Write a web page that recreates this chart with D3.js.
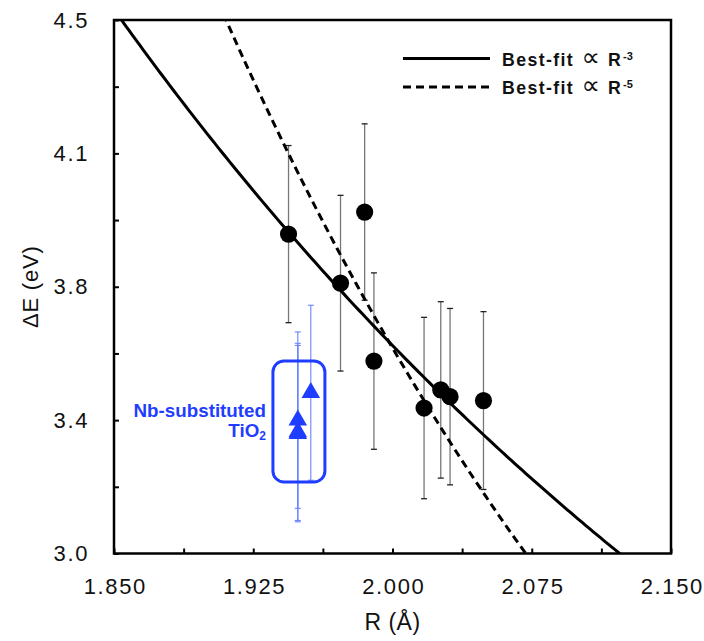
<!DOCTYPE html>
<html>
<head>
<meta charset="utf-8">
<script src="https://cdn.jsdelivr.net/npm/d3@7"></script>
<style>
  html, body { margin: 0; padding: 0; background: #fff; }
  svg { display: block; }
  text { font-family: "Liberation Sans", Arial, Helvetica, sans-serif; }
</style>
</head>
<body>
<svg id="chart" width="704" height="641"></svg>
<script>
// ---------- data ----------
const xTickValues = [1.85, 1.925, 2.0, 2.075, 2.15];
const xTickLabels = ["1.850", "1.925", "2.000", "2.075", "2.150"];
const xMinorTicks = [1.8875, 1.9625, 2.0375, 2.1125];
const yTickValues = [3.0, 3.375, 3.75, 4.125, 4.5];
const yTickLabels = ["3.0", "3.4", "3.8", "4.1", "4.5"];
const yMinorTicks = [3.1875, 3.5625, 3.9375, 4.3125];

// host oxides (black circles)
const blackR   = [1.944, 1.972, 1.985, 1.990, 2.017, 2.026, 2.031, 2.049];
const blackE   = [3.898, 3.760, 3.960, 3.541, 3.409, 3.460, 3.441, 3.430];
const blackErr = [0.249, 0.247, 0.248, 0.248, 0.255, 0.248, 0.248, 0.250];

// Nb-substituted TiO2 (blue triangles)
const blueR   = [1.949, 1.949, 1.949, 1.956];
const blueE   = [3.375, 3.342, 3.337, 3.452];
const blueErr = [0.248, 0.249, 0.248, 0.246];

// best fits: E = A * R^-n
const fitPowers = [3, 5];
const fitCoeffs = [28.68, 114.5];
const fitDash = [null, "8,5"];

// annotation box around blue points (data coords)
const boxR = [1.9356, 1.9636];
const boxE = [3.201, 3.541];

// ---------- layout ----------
const svg = d3.select("#chart");
const L = 114, R = 671, T = 20, B = 553.5;
const x = d3.scaleLinear().domain([1.85, 2.15]).range([L, R]);
const y = d3.scaleLinear().domain([3.0, 4.5]).range([B, T]);
const BLUE = "#1f3dff";
const BLUE_LIGHT = "#6a85ff";

svg.append("defs").append("clipPath").attr("id", "clip")
  .append("rect").attr("x", L).attr("y", T).attr("width", R - L).attr("height", B - T);

// ---------- axes ----------
const fontTick = "22px";
const yAxis = d3.axisLeft(y).tickValues(yTickValues)
  .tickFormat((d, i) => yTickLabels[i]).tickSizeInner(-5).tickSizeOuter(0).tickPadding(25);
const gy = svg.append("g").attr("transform", `translate(${L},0)`).call(yAxis);
gy.select(".domain").remove();
gy.selectAll(".tick line").attr("stroke", "#000").attr("stroke-width", 2);
gy.selectAll(".tick text").attr("font-size", fontTick).attr("fill", "#111")
  .attr("letter-spacing", "1.6px").attr("font-family", "Liberation Sans, Arial, sans-serif");

const yMinor = d3.axisLeft(y).tickValues(yMinorTicks).tickFormat("").tickSizeInner(-5).tickSizeOuter(0);
const gym = svg.append("g").attr("transform", `translate(${L},0)`).call(yMinor);
gym.select(".domain").remove();
gym.selectAll(".tick line").attr("stroke", "#000").attr("stroke-width", 2);

const xAxis = d3.axisBottom(x).tickValues(xTickValues)
  .tickFormat((d, i) => xTickLabels[i]).tickSizeInner(-5).tickSizeOuter(0).tickPadding(24);
const gx = svg.append("g").attr("transform", `translate(0,${B})`).call(xAxis);
gx.select(".domain").remove();
gx.selectAll(".tick line").attr("stroke", "#000").attr("stroke-width", 2);
gx.selectAll(".tick text").attr("font-size", fontTick).attr("fill", "#111")
  .attr("letter-spacing", "1.6px").attr("font-family", "Liberation Sans, Arial, sans-serif")
  .attr("dy", "0.71em").attr("y", 24.5).attr("dx", "0.8px");

const xMinor = d3.axisBottom(x).tickValues(xMinorTicks).tickFormat("").tickSizeInner(-5).tickSizeOuter(0);
const gxm = svg.append("g").attr("transform", `translate(0,${B})`).call(xMinor);
gxm.select(".domain").remove();
gxm.selectAll(".tick line").attr("stroke", "#000").attr("stroke-width", 2);

// axis titles
svg.append("text").attr("x", (L + R) / 2).attr("y", 630)
  .attr("text-anchor", "middle").attr("font-size", "23px").attr("fill", "#111")
  .attr("letter-spacing", "0.5px")
  .text("R (\u00C5)");
svg.append("text").attr("transform", `translate(38,${(T + B) / 2}) rotate(-90)`)
  .attr("text-anchor", "middle").attr("font-size", "22px").attr("fill", "#111")
  .attr("letter-spacing", "0.8px")
  .text("\u0394E (eV)");

// ---------- error bars ----------
const capW = 3;
const gErr = svg.append("g");
blackR.forEach((r, i) => {
  const cx = x(r), y1 = y(blackE[i] + blackErr[i]), y2 = y(blackE[i] - blackErr[i]);
  gErr.append("line").attr("x1", cx).attr("x2", cx).attr("y1", y1).attr("y2", y2)
    .attr("stroke", "#777").attr("stroke-width", 1.3);
  [y1, y2].forEach(yy => gErr.append("line").attr("x1", cx - capW).attr("x2", cx + capW)
    .attr("y1", yy).attr("y2", yy).attr("stroke", "#222").attr("stroke-width", 1.3));
});
blueR.forEach((r, i) => {
  const cx = x(r), y1 = y(blueE[i] + blueErr[i]), y2 = y(blueE[i] - blueErr[i]);
  gErr.append("line").attr("x1", cx).attr("x2", cx).attr("y1", y1).attr("y2", y2)
    .attr("stroke", BLUE_LIGHT).attr("stroke-width", 1.1);
  [y1, y2].forEach(yy => gErr.append("line").attr("x1", cx - capW).attr("x2", cx + capW)
    .attr("y1", yy).attr("y2", yy).attr("stroke", BLUE_LIGHT).attr("stroke-width", 1.1));
});

// ---------- fit curves ----------
const rGrid = d3.range(1.80, 2.20001, 0.002);
const line = d3.line().x(d => x(d[0])).y(d => y(d[1]));
fitPowers.forEach((n, k) => {
  const pts = rGrid.map(r => [r, fitCoeffs[k] * Math.pow(r, -n)]);
  const p = svg.append("path").datum(pts).attr("d", line)
    .attr("clip-path", "url(#clip)")
    .attr("fill", "none").attr("stroke", "#000").attr("stroke-width", 3);
  if (fitDash[k]) p.attr("stroke-dasharray", fitDash[k]);
});

// ---------- annotation box ----------
svg.append("rect")
  .attr("x", x(boxR[0])).attr("y", y(boxE[1]))
  .attr("width", x(boxR[1]) - x(boxR[0])).attr("height", y(boxE[0]) - y(boxE[1]))
  .attr("rx", 11).attr("ry", 11)
  .attr("fill", "none").attr("stroke", BLUE).attr("stroke-width", 3);

// ---------- points ----------
svg.append("g").selectAll("circle").data(blackR).join("circle")
  .attr("cx", d => x(d)).attr("cy", (d, i) => y(blackE[i])).attr("r", 8.6)
  .attr("fill", "#000");

const tri = d3.symbol().type(d3.symbolTriangle).size(150);
svg.append("g").selectAll("path").data(blueR).join("path")
  .attr("transform", (d, i) => `translate(${x(d)},${y(blueE[i])})`)
  .attr("d", tri).attr("fill", BLUE);

// ---------- blue label ----------
const lab = svg.append("g").attr("fill", BLUE).attr("font-weight", "bold").attr("font-size", "18.8px");
lab.append("text").attr("x", 266).attr("y", 416.5).attr("text-anchor", "end").text("Nb-substituted");
const t2 = lab.append("text").attr("x", 266).attr("y", 436.5).attr("text-anchor", "end");
t2.append("tspan").text("TiO");
t2.append("tspan").attr("font-size", "12px").attr("dy", 3).text("2");

// ---------- frame ----------
svg.append("rect").attr("x", L).attr("y", T).attr("width", R - L).attr("height", B - T)
  .attr("fill", "none").attr("stroke", "#000").attr("stroke-width", 2.5);

// ---------- legend ----------
const legY = [58.5, 87];
fitPowers.forEach((n, k) => {
  const ly = legY[k];
  const l = svg.append("line").attr("x1", 403).attr("x2", 490).attr("y1", ly).attr("y2", ly)
    .attr("stroke", "#000").attr("stroke-width", 3);
  if (fitDash[k]) l.attr("stroke-dasharray", fitDash[k]);
  const t = svg.append("text").attr("y", ly + 7).attr("font-size", "17.7px").attr("fill", "#111");
  t.append("tspan").attr("x", 502).attr("font-weight", "bold").attr("letter-spacing", "1.4px").text("Best-fit");
  t.append("tspan").attr("x", 581.5).attr("font-family", "DejaVu Sans, sans-serif").attr("font-size", "26px").text("\u221D");
  t.append("tspan").attr("x", 608).attr("font-weight", "bold").text("R");
  t.append("tspan").attr("x", 623).attr("dy", -6).attr("font-weight", "bold").attr("font-size", "11px").text("-" + n);
});
</script>
</body>
</html>
